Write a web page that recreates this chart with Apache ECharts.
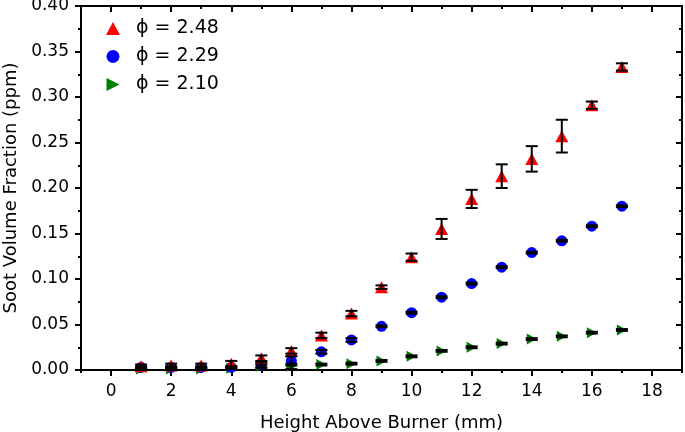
<!DOCTYPE html>
<html>
<head>
<meta charset="utf-8">
<script src="https://cdn.jsdelivr.net/npm/echarts@6/dist/echarts.min.js"></script>
<style>html,body{margin:0;padding:0;background:#fff}#c{width:685px;height:432px}</style>
</head>
<body>
<div id="c"></div>
<script>
const heights = [1,2,3,4,5,6,7,8,9,10,11,12,13,14,15,16,17];
const xMajorTicks = [0,2,4,6,8,10,12,14,16,18];
const xMinorTicks = [-1,1,3,5,7,9,11,13,15,17,19];
const seriesNames = ['ϕ = 2.48','ϕ = 2.29','ϕ = 2.10'];
const red = [0.004,0.005,0.005,0.007,0.013,0.021,0.038,0.062,0.091,0.124,0.155,0.188,0.213,0.232,0.257,0.291,0.333];
const redErr = [0.002,0.002,0.002,0.003,0.003,0.003,0.003,0.003,0.002,0.004,0.011,0.010,0.013,0.014,0.018,0.004,0.004];
const blue = [0.003,0.003,0.003,0.003,0.006,0.010,0.020,0.033,0.048,0.063,0.080,0.095,0.113,0.129,0.142,0.158,0.180];
const blueErr = [0.001,0.001,0.001,0.001,0.003,0.005,0.002,0.002,0.001,0.001,0.001,0.001,0.001,0.001,0.001,0.001,0.001];
const green = [0.001,0.001,0.001,0.002,0.004,0.004,0.006,0.007,0.010,0.015,0.021,0.025,0.029,0.034,0.037,0.041,0.044];
const greenErr = [0.001,0.001,0.001,0.001,0.002,0.003,0.001,0.001,0.001,0.001,0.001,0.001,0.001,0.001,0.001,0.001,0.001];

const FONT = 'DejaVu Sans, sans-serif';
const pts = (ys) => heights.map((h,i)=>[h, ys[i]]);
const errData = (ys, es) => heights.map((h,i)=>[h, ys[i]-es[i], ys[i]+es[i]]);

function errRender(params, api){
  const x = api.value(0);
  const lo = api.coord([x, api.value(1)]);
  const hi = api.coord([x, api.value(2)]);
  const w = 6;
  const style = {stroke:'#000', lineWidth:2, fill:null};
  return {type:'group', children:[
    {type:'line', shape:{x1:lo[0], y1:lo[1], x2:hi[0], y2:hi[1]}, style},
    {type:'line', shape:{x1:lo[0]-w, y1:lo[1], x2:lo[0]+w, y2:lo[1]}, style},
    {type:'line', shape:{x1:hi[0]-w, y1:hi[1], x2:hi[0]+w, y2:hi[1]}, style}
  ]};
}

const rightTri = 'path://M0,0 L10,5 L0,10 Z';
const lineOn = () => ({show:true, onZero:false, lineStyle:{color:'#000', width:2}});
const lineOff = () => ({show:false, onZero:false});
const tick = (inside, len, vals) => {
  const t = {show:true, inside, length:len, lineStyle:{color:'#000', width:2}};
  if (vals) t.customValues = vals;
  return t;
};

const option = {
  animation:false,
  backgroundColor:'#fff',
  grid:{left:81, right:3, top:6, bottom:62, containLabel:false, outerBoundsMode:'none',
        show:true, borderColor:'#000', borderWidth:2, backgroundColor:'transparent'},
  legend:{
    orient:'vertical', left:101, top:14, itemGap:9, itemWidth:14, itemHeight:13,
    textStyle:{fontFamily:FONT, fontSize:19, color:'#000', padding:[0,0,0,11]},
    data:seriesNames
  },
  xAxis:[
    {type:'value', min:-1, max:19, position:'bottom',
     name:'Height Above Burner (mm)', nameLocation:'middle', nameGap:44,
     nameTextStyle:{fontFamily:FONT, fontSize:18, color:'#000'},
     axisLine:lineOn(), splitLine:{show:false},
     axisTick:tick(false, 6, xMajorTicks),
     axisLabel:{fontFamily:FONT, fontSize:17, color:'#000', margin:13, customValues:xMajorTicks}},
    {type:'value', min:-1, max:19, position:'bottom',
     axisLine:lineOff(), splitLine:{show:false},
     axisTick:tick(false, 3, xMinorTicks),
     axisLabel:{show:false}},
    {type:'value', min:-1, max:19, position:'top',
     axisLine:lineOn(), splitLine:{show:false},
     axisTick:tick(true, 6, xMajorTicks),
     axisLabel:{show:false}},
    {type:'value', min:-1, max:19, position:'top',
     axisLine:lineOff(), splitLine:{show:false},
     axisTick:tick(true, 3, xMinorTicks),
     axisLabel:{show:false}}
  ],
  yAxis:[
    {type:'value', min:0, max:0.4, interval:0.05, position:'left',
     name:'Soot Volume Fraction (ppm)', nameLocation:'middle', nameGap:58,
     nameTextStyle:{fontFamily:FONT, fontSize:18, color:'#000'},
     axisLine:lineOn(), splitLine:{show:false},
     axisTick:tick(false, 6),
     minorTick:{show:true, splitNumber:2, length:3, lineStyle:{color:'#000', width:2}},
     axisLabel:{fontFamily:FONT, fontSize:17, color:'#000', margin:12, padding:[4,0,0,0], formatter:v=>v.toFixed(2)}},
    {type:'value', min:0, max:0.4, interval:0.05, position:'right',
     axisLine:lineOn(), splitLine:{show:false},
     axisTick:tick(true, 6),
     minorTick:{show:true, splitNumber:2, length:3, lineStyle:{color:'#000', width:2}},
     axisLabel:{show:false}}
  ],
  series:[
    {name:seriesNames[2], type:'scatter', data:pts(green), symbol:rightTri, symbolSize:[10,11],
     itemStyle:{color:'#008000', opacity:1}, z:2},
    {name:seriesNames[1], type:'scatter', data:pts(blue), symbol:'circle', symbolSize:11,
     itemStyle:{color:'#0000ff', opacity:1}, z:3},
    {name:seriesNames[0], type:'scatter', data:pts(red), symbol:'triangle', symbolSize:[13,12],
     itemStyle:{color:'#ff0000', opacity:1}, z:4},
    {type:'custom', data:errData(green, greenErr), renderItem:errRender, z:5, silent:true},
    {type:'custom', data:errData(blue, blueErr), renderItem:errRender, z:5, silent:true},
    {type:'custom', data:errData(red, redErr), renderItem:errRender, z:5, silent:true}
  ]
};
option.legend.data = [
  {name:seriesNames[0], icon:'triangle'},
  {name:seriesNames[1], icon:'circle'},
  {name:seriesNames[2], icon:rightTri}
];
const chart = echarts.init(document.getElementById('c'), null, {renderer:'canvas'});
chart.setOption(option);
</script>
</body>
</html>
